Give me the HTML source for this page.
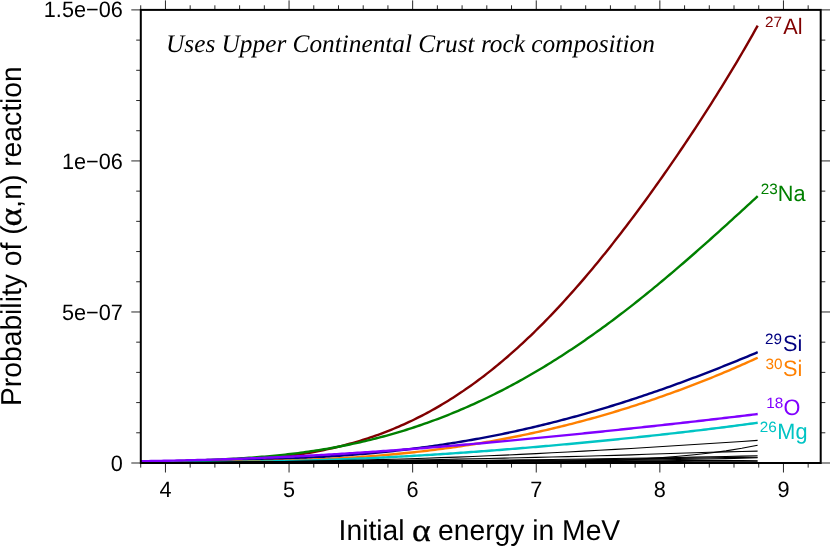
<!DOCTYPE html>
<html><head><meta charset="utf-8"><title>alpha-n probability</title>
<style>html,body{margin:0;padding:0;background:#fff;}svg{display:block;will-change:transform;}text{font-family:"Liberation Sans",sans-serif;text-rendering:geometricPrecision;}.ser{font-family:"Liberation Serif",serif;font-style:italic;}</style></head><body>
<svg width="830" height="546" viewBox="0 0 830 546">
<rect x="0" y="0" width="830" height="546" fill="#ffffff"/>
<path d="M140.60,462.43 L143.18,462.59 L145.76,462.73 L148.35,462.80 L150.93,462.80 L153.51,462.80 L156.09,462.80 L158.67,462.80 L161.26,462.80 L163.84,462.80 L166.42,462.80 L169.00,462.80 L171.58,462.80 L174.17,462.80 L176.75,462.80 L179.33,462.80 L181.91,462.80 L184.49,462.80 L187.08,462.80 L189.66,462.80 L192.24,462.80 L194.82,462.80 L197.40,462.80 L199.99,462.80 L202.57,462.80 L205.15,462.71 L207.73,462.61 L210.31,462.51 L212.90,462.40 L215.48,462.28 L218.06,462.16 L220.64,462.03 L223.22,461.90 L225.81,461.76 L228.39,461.61 L230.97,461.46 L233.55,461.30 L236.13,461.13 L238.72,460.96 L241.30,460.78 L243.88,460.60 L246.46,460.40 L249.04,460.20 L251.63,459.99 L254.21,459.77 L256.79,459.55 L259.37,459.31 L261.95,459.07 L264.54,458.82 L267.12,458.56 L269.70,458.29 L272.28,458.01 L274.86,457.72 L277.45,457.43 L280.03,457.12 L282.61,456.80 L285.19,456.47 L287.77,456.13 L290.36,455.77 L292.94,455.41 L295.52,455.03 L298.10,454.64 L300.68,454.24 L303.27,453.82 L305.85,453.39 L308.43,452.95 L311.01,452.50 L313.59,452.02 L316.18,451.54 L318.76,451.04 L321.34,450.53 L323.92,449.99 L326.50,449.45 L329.09,448.89 L331.67,448.31 L334.25,447.71 L336.83,447.10 L339.41,446.47 L342.00,445.82 L344.58,445.16 L347.16,444.48 L349.74,443.78 L352.32,443.06 L354.91,442.32 L357.49,441.56 L360.07,440.78 L362.65,439.98 L365.23,439.16 L367.82,438.33 L370.40,437.47 L372.98,436.59 L375.56,435.69 L378.14,434.76 L380.73,433.82 L383.31,432.85 L385.89,431.86 L388.47,430.85 L391.05,429.82 L393.64,428.76 L396.22,427.68 L398.80,426.58 L401.38,425.45 L403.96,424.30 L406.55,423.13 L409.13,421.93 L411.71,420.71 L414.29,419.46 L416.87,418.19 L419.46,416.89 L422.04,415.57 L424.62,414.22 L427.20,412.85 L429.78,411.45 L432.37,410.03 L434.95,408.58 L437.53,407.10 L440.11,405.60 L442.69,404.07 L445.28,402.51 L447.86,400.93 L450.44,399.32 L453.02,397.68 L455.61,396.02 L458.19,394.33 L460.77,392.61 L463.35,390.87 L465.93,389.10 L468.52,387.30 L471.10,385.47 L473.68,383.61 L476.26,381.73 L478.84,379.82 L481.43,377.88 L484.01,375.92 L486.59,373.92 L489.17,371.90 L491.75,369.85 L494.34,367.78 L496.92,365.67 L499.50,363.54 L502.08,361.38 L504.66,359.19 L507.25,356.97 L509.83,354.72 L512.41,352.45 L514.99,350.15 L517.57,347.82 L520.16,345.47 L522.74,343.08 L525.32,340.67 L527.90,338.23 L530.48,335.77 L533.07,333.27 L535.65,330.75 L538.23,328.21 L540.81,325.63 L543.39,323.03 L545.98,320.40 L548.56,317.75 L551.14,315.06 L553.72,312.36 L556.30,309.62 L558.89,306.86 L561.47,304.07 L564.05,301.26 L566.63,298.42 L569.21,295.56 L571.80,292.67 L574.38,289.75 L576.96,286.81 L579.54,283.85 L582.12,280.86 L584.71,277.85 L587.29,274.81 L589.87,271.75 L592.45,268.66 L595.03,265.55 L597.62,262.42 L600.20,259.26 L602.78,256.08 L605.36,252.88 L607.94,249.65 L610.53,246.40 L613.11,243.13 L615.69,239.84 L618.27,236.53 L620.85,233.19 L623.44,229.83 L626.02,226.45 L628.60,223.05 L631.18,219.63 L633.76,216.19 L636.35,212.72 L638.93,209.24 L641.51,205.74 L644.09,202.21 L646.67,198.67 L649.26,195.10 L651.84,191.52 L654.42,187.91 L657.00,184.29 L659.58,180.65 L662.17,176.98 L664.75,173.30 L667.33,169.60 L669.91,165.88 L672.49,162.13 L675.08,158.37 L677.66,154.59 L680.24,150.79 L682.82,146.97 L685.40,143.12 L687.99,139.26 L690.57,135.38 L693.15,131.48 L695.73,127.55 L698.31,123.61 L700.90,119.64 L703.48,115.65 L706.06,111.64 L708.64,107.60 L711.22,103.54 L713.81,99.46 L716.39,95.35 L718.97,91.22 L721.55,87.06 L724.13,82.88 L726.72,78.67 L729.30,74.42 L731.88,70.15 L734.46,65.85 L737.04,61.52 L739.63,57.16 L742.21,52.76 L744.79,48.33 L747.37,43.86 L749.95,39.35 L752.54,34.80 L755.12,30.21 L757.70,25.58" fill="none" stroke="#800000" stroke-width="2.4" stroke-linejoin="round"/>
<path d="M140.60,462.69 L143.18,462.56 L145.76,462.42 L148.35,462.30 L150.93,462.18 L153.51,462.06 L156.09,461.94 L158.67,461.84 L161.26,461.73 L163.84,461.63 L166.42,461.53 L169.00,461.43 L171.58,461.33 L174.17,461.24 L176.75,461.14 L179.33,461.05 L181.91,460.96 L184.49,460.86 L187.08,460.77 L189.66,460.68 L192.24,460.59 L194.82,460.49 L197.40,460.39 L199.99,460.30 L202.57,460.20 L205.15,460.10 L207.73,459.99 L210.31,459.89 L212.90,459.78 L215.48,459.66 L218.06,459.55 L220.64,459.43 L223.22,459.30 L225.81,459.17 L228.39,459.04 L230.97,458.90 L233.55,458.76 L236.13,458.62 L238.72,458.46 L241.30,458.31 L243.88,458.14 L246.46,457.97 L249.04,457.80 L251.63,457.62 L254.21,457.43 L256.79,457.23 L259.37,457.03 L261.95,456.82 L264.54,456.61 L267.12,456.38 L269.70,456.15 L272.28,455.91 L274.86,455.67 L277.45,455.41 L280.03,455.15 L282.61,454.88 L285.19,454.60 L287.77,454.31 L290.36,454.02 L292.94,453.71 L295.52,453.40 L298.10,453.07 L300.68,452.74 L303.27,452.40 L305.85,452.05 L308.43,451.68 L311.01,451.31 L313.59,450.93 L316.18,450.54 L318.76,450.14 L321.34,449.73 L323.92,449.30 L326.50,448.87 L329.09,448.43 L331.67,447.97 L334.25,447.51 L336.83,447.03 L339.41,446.55 L342.00,446.05 L344.58,445.54 L347.16,445.02 L349.74,444.49 L352.32,443.94 L354.91,443.39 L357.49,442.82 L360.07,442.24 L362.65,441.65 L365.23,441.05 L367.82,440.44 L370.40,439.81 L372.98,439.17 L375.56,438.52 L378.14,437.86 L380.73,437.18 L383.31,436.50 L385.89,435.79 L388.47,435.08 L391.05,434.36 L393.64,433.62 L396.22,432.86 L398.80,432.10 L401.38,431.32 L403.96,430.53 L406.55,429.73 L409.13,428.91 L411.71,428.08 L414.29,427.24 L416.87,426.38 L419.46,425.51 L422.04,424.63 L424.62,423.73 L427.20,422.82 L429.78,421.89 L432.37,420.96 L434.95,420.00 L437.53,419.04 L440.11,418.06 L442.69,417.07 L445.28,416.06 L447.86,415.04 L450.44,414.00 L453.02,412.95 L455.61,411.89 L458.19,410.81 L460.77,409.72 L463.35,408.62 L465.93,407.50 L468.52,406.36 L471.10,405.21 L473.68,404.05 L476.26,402.87 L478.84,401.68 L481.43,400.48 L484.01,399.26 L486.59,398.02 L489.17,396.77 L491.75,395.51 L494.34,394.23 L496.92,392.94 L499.50,391.63 L502.08,390.31 L504.66,388.98 L507.25,387.62 L509.83,386.26 L512.41,384.88 L514.99,383.49 L517.57,382.08 L520.16,380.65 L522.74,379.22 L525.32,377.76 L527.90,376.30 L530.48,374.82 L533.07,373.32 L535.65,371.81 L538.23,370.29 L540.81,368.75 L543.39,367.19 L545.98,365.63 L548.56,364.04 L551.14,362.45 L553.72,360.84 L556.30,359.21 L558.89,357.57 L561.47,355.92 L564.05,354.25 L566.63,352.57 L569.21,350.87 L571.80,349.16 L574.38,347.44 L576.96,345.70 L579.54,343.94 L582.12,342.18 L584.71,340.40 L587.29,338.61 L589.87,336.80 L592.45,334.98 L595.03,333.14 L597.62,331.30 L600.20,329.43 L602.78,327.56 L605.36,325.67 L607.94,323.77 L610.53,321.86 L613.11,319.93 L615.69,317.99 L618.27,316.04 L620.85,314.08 L623.44,312.10 L626.02,310.11 L628.60,308.11 L631.18,306.09 L633.76,304.07 L636.35,302.03 L638.93,299.98 L641.51,297.92 L644.09,295.85 L646.67,293.76 L649.26,291.67 L651.84,289.56 L654.42,287.44 L657.00,285.31 L659.58,283.18 L662.17,281.03 L664.75,278.87 L667.33,276.70 L669.91,274.52 L672.49,272.33 L675.08,270.13 L677.66,267.93 L680.24,265.71 L682.82,263.48 L685.40,261.25 L687.99,259.01 L690.57,256.76 L693.15,254.50 L695.73,252.23 L698.31,249.96 L700.90,247.68 L703.48,245.39 L706.06,243.09 L708.64,240.79 L711.22,238.49 L713.81,236.17 L716.39,233.85 L718.97,231.53 L721.55,229.20 L724.13,226.86 L726.72,224.52 L729.30,222.18 L731.88,219.83 L734.46,217.48 L737.04,215.13 L739.63,212.77 L742.21,210.41 L744.79,208.05 L747.37,205.69 L749.95,203.32 L752.54,200.95 L755.12,198.59 L757.70,196.22" fill="none" stroke="#008000" stroke-width="2.4" stroke-linejoin="round"/>
<path d="M140.60,462.45 L143.18,462.38 L145.76,462.31 L148.35,462.24 L150.93,462.18 L153.51,462.11 L156.09,462.05 L158.67,461.98 L161.26,461.92 L163.84,461.86 L166.42,461.81 L169.00,461.75 L171.58,461.69 L174.17,461.63 L176.75,461.58 L179.33,461.53 L181.91,461.47 L184.49,461.42 L187.08,461.36 L189.66,461.31 L192.24,461.26 L194.82,461.21 L197.40,461.15 L199.99,461.10 L202.57,461.05 L205.15,460.99 L207.73,460.94 L210.31,460.89 L212.90,460.83 L215.48,460.78 L218.06,460.72 L220.64,460.66 L223.22,460.60 L225.81,460.55 L228.39,460.49 L230.97,460.43 L233.55,460.36 L236.13,460.30 L238.72,460.23 L241.30,460.17 L243.88,460.10 L246.46,460.03 L249.04,459.96 L251.63,459.88 L254.21,459.81 L256.79,459.73 L259.37,459.65 L261.95,459.57 L264.54,459.49 L267.12,459.40 L269.70,459.31 L272.28,459.22 L274.86,459.13 L277.45,459.03 L280.03,458.93 L282.61,458.83 L285.19,458.73 L287.77,458.62 L290.36,458.51 L292.94,458.40 L295.52,458.28 L298.10,458.16 L300.68,458.04 L303.27,457.91 L305.85,457.78 L308.43,457.65 L311.01,457.51 L313.59,457.37 L316.18,457.23 L318.76,457.08 L321.34,456.93 L323.92,456.78 L326.50,456.62 L329.09,456.46 L331.67,456.29 L334.25,456.12 L336.83,455.94 L339.41,455.76 L342.00,455.58 L344.58,455.39 L347.16,455.20 L349.74,455.00 L352.32,454.80 L354.91,454.60 L357.49,454.39 L360.07,454.17 L362.65,453.95 L365.23,453.73 L367.82,453.50 L370.40,453.27 L372.98,453.03 L375.56,452.79 L378.14,452.54 L380.73,452.28 L383.31,452.03 L385.89,451.76 L388.47,451.49 L391.05,451.22 L393.64,450.94 L396.22,450.66 L398.80,450.37 L401.38,450.07 L403.96,449.77 L406.55,449.46 L409.13,449.15 L411.71,448.84 L414.29,448.51 L416.87,448.19 L419.46,447.85 L422.04,447.51 L424.62,447.17 L427.20,446.82 L429.78,446.46 L432.37,446.10 L434.95,445.73 L437.53,445.36 L440.11,444.98 L442.69,444.59 L445.28,444.20 L447.86,443.80 L450.44,443.40 L453.02,442.99 L455.61,442.58 L458.19,442.16 L460.77,441.73 L463.35,441.29 L465.93,440.86 L468.52,440.41 L471.10,439.96 L473.68,439.50 L476.26,439.04 L478.84,438.57 L481.43,438.09 L484.01,437.61 L486.59,437.12 L489.17,436.62 L491.75,436.12 L494.34,435.62 L496.92,435.10 L499.50,434.58 L502.08,434.06 L504.66,433.52 L507.25,432.98 L509.83,432.44 L512.41,431.89 L514.99,431.33 L517.57,430.77 L520.16,430.20 L522.74,429.62 L525.32,429.04 L527.90,428.45 L530.48,427.85 L533.07,427.25 L535.65,426.64 L538.23,426.03 L540.81,425.40 L543.39,424.78 L545.98,424.14 L548.56,423.50 L551.14,422.86 L553.72,422.20 L556.30,421.55 L558.89,420.88 L561.47,420.21 L564.05,419.53 L566.63,418.85 L569.21,418.16 L571.80,417.46 L574.38,416.76 L576.96,416.05 L579.54,415.33 L582.12,414.61 L584.71,413.88 L587.29,413.15 L589.87,412.41 L592.45,411.66 L595.03,410.91 L597.62,410.15 L600.20,409.39 L602.78,408.62 L605.36,407.84 L607.94,407.06 L610.53,406.27 L613.11,405.48 L615.69,404.68 L618.27,403.87 L620.85,403.06 L623.44,402.24 L626.02,401.41 L628.60,400.58 L631.18,399.75 L633.76,398.90 L636.35,398.06 L638.93,397.20 L641.51,396.34 L644.09,395.48 L646.67,394.61 L649.26,393.73 L651.84,392.85 L654.42,391.96 L657.00,391.07 L659.58,390.17 L662.17,389.27 L664.75,388.36 L667.33,387.44 L669.91,386.52 L672.49,385.59 L675.08,384.66 L677.66,383.72 L680.24,382.78 L682.82,381.84 L685.40,380.88 L687.99,379.92 L690.57,378.96 L693.15,377.99 L695.73,377.02 L698.31,376.04 L700.90,375.06 L703.48,374.07 L706.06,373.08 L708.64,372.08 L711.22,371.07 L713.81,370.07 L716.39,369.05 L718.97,368.04 L721.55,367.01 L724.13,365.99 L726.72,364.95 L729.30,363.92 L731.88,362.88 L734.46,361.83 L737.04,360.78 L739.63,359.73 L742.21,358.67 L744.79,357.60 L747.37,356.53 L749.95,355.46 L752.54,354.39 L755.12,353.31 L757.70,352.22" fill="none" stroke="#000080" stroke-width="2.4" stroke-linejoin="round"/>
<path d="M140.60,462.65 L143.18,462.61 L145.76,462.56 L148.35,462.52 L150.93,462.48 L153.51,462.45 L156.09,462.41 L158.67,462.38 L161.26,462.34 L163.84,462.31 L166.42,462.28 L169.00,462.25 L171.58,462.22 L174.17,462.19 L176.75,462.16 L179.33,462.13 L181.91,462.11 L184.49,462.08 L187.08,462.06 L189.66,462.03 L192.24,462.00 L194.82,461.98 L197.40,461.95 L199.99,461.93 L202.57,461.90 L205.15,461.88 L207.73,461.85 L210.31,461.82 L212.90,461.80 L215.48,461.77 L218.06,461.74 L220.64,461.71 L223.22,461.68 L225.81,461.65 L228.39,461.62 L230.97,461.59 L233.55,461.55 L236.13,461.52 L238.72,461.48 L241.30,461.45 L243.88,461.41 L246.46,461.37 L249.04,461.32 L251.63,461.28 L254.21,461.23 L256.79,461.19 L259.37,461.14 L261.95,461.09 L264.54,461.03 L267.12,460.98 L269.70,460.92 L272.28,460.86 L274.86,460.80 L277.45,460.73 L280.03,460.67 L282.61,460.60 L285.19,460.52 L287.77,460.45 L290.36,460.37 L292.94,460.29 L295.52,460.21 L298.10,460.12 L300.68,460.03 L303.27,459.94 L305.85,459.84 L308.43,459.74 L311.01,459.64 L313.59,459.53 L316.18,459.42 L318.76,459.31 L321.34,459.20 L323.92,459.08 L326.50,458.95 L329.09,458.83 L331.67,458.69 L334.25,458.56 L336.83,458.42 L339.41,458.28 L342.00,458.13 L344.58,457.98 L347.16,457.83 L349.74,457.67 L352.32,457.50 L354.91,457.34 L357.49,457.17 L360.07,456.99 L362.65,456.81 L365.23,456.62 L367.82,456.43 L370.40,456.24 L372.98,456.04 L375.56,455.84 L378.14,455.63 L380.73,455.42 L383.31,455.20 L385.89,454.97 L388.47,454.75 L391.05,454.51 L393.64,454.28 L396.22,454.03 L398.80,453.79 L401.38,453.53 L403.96,453.27 L406.55,453.01 L409.13,452.74 L411.71,452.47 L414.29,452.19 L416.87,451.90 L419.46,451.61 L422.04,451.32 L424.62,451.02 L427.20,450.71 L429.78,450.40 L432.37,450.08 L434.95,449.76 L437.53,449.43 L440.11,449.09 L442.69,448.75 L445.28,448.40 L447.86,448.05 L450.44,447.69 L453.02,447.33 L455.61,446.96 L458.19,446.58 L460.77,446.20 L463.35,445.81 L465.93,445.42 L468.52,445.02 L471.10,444.61 L473.68,444.20 L476.26,443.78 L478.84,443.36 L481.43,442.93 L484.01,442.49 L486.59,442.05 L489.17,441.60 L491.75,441.14 L494.34,440.68 L496.92,440.21 L499.50,439.74 L502.08,439.26 L504.66,438.77 L507.25,438.27 L509.83,437.77 L512.41,437.27 L514.99,436.75 L517.57,436.23 L520.16,435.71 L522.74,435.17 L525.32,434.64 L527.90,434.09 L530.48,433.54 L533.07,432.98 L535.65,432.41 L538.23,431.84 L540.81,431.26 L543.39,430.67 L545.98,430.08 L548.56,429.48 L551.14,428.88 L553.72,428.26 L556.30,427.65 L558.89,427.02 L561.47,426.39 L564.05,425.75 L566.63,425.10 L569.21,424.45 L571.80,423.79 L574.38,423.12 L576.96,422.45 L579.54,421.77 L582.12,421.08 L584.71,420.39 L587.29,419.68 L589.87,418.98 L592.45,418.26 L595.03,417.54 L597.62,416.81 L600.20,416.08 L602.78,415.33 L605.36,414.58 L607.94,413.83 L610.53,413.06 L613.11,412.29 L615.69,411.52 L618.27,410.73 L620.85,409.94 L623.44,409.14 L626.02,408.34 L628.60,407.53 L631.18,406.71 L633.76,405.88 L636.35,405.05 L638.93,404.21 L641.51,403.36 L644.09,402.50 L646.67,401.64 L649.26,400.77 L651.84,399.90 L654.42,399.02 L657.00,398.13 L659.58,397.23 L662.17,396.32 L664.75,395.41 L667.33,394.49 L669.91,393.57 L672.49,392.64 L675.08,391.70 L677.66,390.75 L680.24,389.80 L682.82,388.83 L685.40,387.87 L687.99,386.89 L690.57,385.91 L693.15,384.92 L695.73,383.92 L698.31,382.92 L700.90,381.90 L703.48,380.88 L706.06,379.86 L708.64,378.82 L711.22,377.78 L713.81,376.74 L716.39,375.68 L718.97,374.62 L721.55,373.55 L724.13,372.47 L726.72,371.38 L729.30,370.29 L731.88,369.19 L734.46,368.08 L737.04,366.97 L739.63,365.85 L742.21,364.72 L744.79,363.58 L747.37,362.44 L749.95,361.28 L752.54,360.12 L755.12,358.96 L757.70,357.78" fill="none" stroke="#ff8000" stroke-width="2.4" stroke-linejoin="round"/>
<path d="M140.60,462.52 L143.18,462.51 L145.76,462.50 L148.35,462.49 L150.93,462.48 L153.51,462.47 L156.09,462.46 L158.67,462.45 L161.26,462.44 L163.84,462.43 L166.42,462.42 L169.00,462.41 L171.58,462.40 L174.17,462.39 L176.75,462.38 L179.33,462.37 L181.91,462.35 L184.49,462.34 L187.08,462.33 L189.66,462.32 L192.24,462.30 L194.82,462.29 L197.40,462.27 L199.99,462.25 L202.57,462.24 L205.15,462.22 L207.73,462.20 L210.31,462.18 L212.90,462.16 L215.48,462.14 L218.06,462.12 L220.64,462.09 L223.22,462.07 L225.81,462.04 L228.39,462.01 L230.97,461.98 L233.55,461.95 L236.13,461.92 L238.72,461.89 L241.30,461.86 L243.88,461.82 L246.46,461.79 L249.04,461.75 L251.63,461.71 L254.21,461.67 L256.79,461.63 L259.37,461.58 L261.95,461.54 L264.54,461.49 L267.12,461.44 L269.70,461.39 L272.28,461.34 L274.86,461.29 L277.45,461.23 L280.03,461.18 L282.61,461.12 L285.19,461.06 L287.77,461.00 L290.36,460.93 L292.94,460.87 L295.52,460.80 L298.10,460.74 L300.68,460.67 L303.27,460.59 L305.85,460.52 L308.43,460.44 L311.01,460.37 L313.59,460.29 L316.18,460.21 L318.76,460.13 L321.34,460.04 L323.92,459.96 L326.50,459.87 L329.09,459.78 L331.67,459.69 L334.25,459.59 L336.83,459.50 L339.41,459.40 L342.00,459.30 L344.58,459.20 L347.16,459.10 L349.74,458.99 L352.32,458.89 L354.91,458.78 L357.49,458.67 L360.07,458.56 L362.65,458.44 L365.23,458.33 L367.82,458.21 L370.40,458.09 L372.98,457.97 L375.56,457.85 L378.14,457.72 L380.73,457.60 L383.31,457.47 L385.89,457.34 L388.47,457.21 L391.05,457.07 L393.64,456.94 L396.22,456.80 L398.80,456.66 L401.38,456.52 L403.96,456.38 L406.55,456.23 L409.13,456.09 L411.71,455.94 L414.29,455.79 L416.87,455.64 L419.46,455.49 L422.04,455.33 L424.62,455.17 L427.20,455.02 L429.78,454.86 L432.37,454.69 L434.95,454.53 L437.53,454.37 L440.11,454.20 L442.69,454.03 L445.28,453.86 L447.86,453.69 L450.44,453.52 L453.02,453.34 L455.61,453.16 L458.19,452.99 L460.77,452.81 L463.35,452.63 L465.93,452.44 L468.52,452.26 L471.10,452.07 L473.68,451.89 L476.26,451.70 L478.84,451.51 L481.43,451.31 L484.01,451.12 L486.59,450.93 L489.17,450.73 L491.75,450.53 L494.34,450.33 L496.92,450.13 L499.50,449.93 L502.08,449.73 L504.66,449.52 L507.25,449.31 L509.83,449.11 L512.41,448.90 L514.99,448.69 L517.57,448.47 L520.16,448.26 L522.74,448.05 L525.32,447.83 L527.90,447.61 L530.48,447.39 L533.07,447.17 L535.65,446.95 L538.23,446.73 L540.81,446.51 L543.39,446.28 L545.98,446.05 L548.56,445.83 L551.14,445.60 L553.72,445.37 L556.30,445.13 L558.89,444.90 L561.47,444.67 L564.05,444.43 L566.63,444.20 L569.21,443.96 L571.80,443.72 L574.38,443.48 L576.96,443.24 L579.54,442.99 L582.12,442.75 L584.71,442.50 L587.29,442.25 L589.87,442.01 L592.45,441.76 L595.03,441.51 L597.62,441.25 L600.20,441.00 L602.78,440.75 L605.36,440.49 L607.94,440.23 L610.53,439.98 L613.11,439.72 L615.69,439.46 L618.27,439.19 L620.85,438.93 L623.44,438.67 L626.02,438.40 L628.60,438.13 L631.18,437.86 L633.76,437.59 L636.35,437.32 L638.93,437.05 L641.51,436.78 L644.09,436.50 L646.67,436.22 L649.26,435.95 L651.84,435.67 L654.42,435.39 L657.00,435.10 L659.58,434.82 L662.17,434.53 L664.75,434.25 L667.33,433.96 L669.91,433.67 L672.49,433.38 L675.08,433.09 L677.66,432.79 L680.24,432.50 L682.82,432.20 L685.40,431.90 L687.99,431.60 L690.57,431.29 L693.15,430.99 L695.73,430.68 L698.31,430.38 L700.90,430.07 L703.48,429.75 L706.06,429.44 L708.64,429.13 L711.22,428.81 L713.81,428.49 L716.39,428.17 L718.97,427.84 L721.55,427.52 L724.13,427.19 L726.72,426.86 L729.30,426.53 L731.88,426.20 L734.46,425.86 L737.04,425.52 L739.63,425.18 L742.21,424.84 L744.79,424.49 L747.37,424.14 L749.95,423.79 L752.54,423.44 L755.12,423.08 L757.70,422.73" fill="none" stroke="#00c4c4" stroke-width="2.4" stroke-linejoin="round"/>
<path d="M140.60,461.22 L143.18,461.18 L145.76,461.14 L148.35,461.09 L150.93,461.05 L153.51,461.01 L156.09,460.96 L158.67,460.91 L161.26,460.86 L163.84,460.82 L166.42,460.76 L169.00,460.71 L171.58,460.66 L174.17,460.61 L176.75,460.55 L179.33,460.49 L181.91,460.43 L184.49,460.37 L187.08,460.31 L189.66,460.25 L192.24,460.19 L194.82,460.12 L197.40,460.06 L199.99,459.99 L202.57,459.92 L205.15,459.85 L207.73,459.77 L210.31,459.70 L212.90,459.62 L215.48,459.55 L218.06,459.47 L220.64,459.39 L223.22,459.31 L225.81,459.22 L228.39,459.14 L230.97,459.05 L233.55,458.96 L236.13,458.87 L238.72,458.78 L241.30,458.69 L243.88,458.60 L246.46,458.50 L249.04,458.40 L251.63,458.30 L254.21,458.20 L256.79,458.10 L259.37,457.99 L261.95,457.89 L264.54,457.78 L267.12,457.67 L269.70,457.56 L272.28,457.45 L274.86,457.33 L277.45,457.22 L280.03,457.10 L282.61,456.98 L285.19,456.86 L287.77,456.74 L290.36,456.61 L292.94,456.49 L295.52,456.36 L298.10,456.23 L300.68,456.10 L303.27,455.97 L305.85,455.83 L308.43,455.70 L311.01,455.56 L313.59,455.42 L316.18,455.28 L318.76,455.14 L321.34,455.00 L323.92,454.85 L326.50,454.70 L329.09,454.55 L331.67,454.40 L334.25,454.25 L336.83,454.10 L339.41,453.94 L342.00,453.79 L344.58,453.63 L347.16,453.47 L349.74,453.31 L352.32,453.14 L354.91,452.98 L357.49,452.81 L360.07,452.65 L362.65,452.48 L365.23,452.31 L367.82,452.13 L370.40,451.96 L372.98,451.78 L375.56,451.61 L378.14,451.43 L380.73,451.25 L383.31,451.07 L385.89,450.89 L388.47,450.70 L391.05,450.52 L393.64,450.33 L396.22,450.14 L398.80,449.95 L401.38,449.76 L403.96,449.57 L406.55,449.38 L409.13,449.18 L411.71,448.98 L414.29,448.79 L416.87,448.59 L419.46,448.39 L422.04,448.19 L424.62,447.98 L427.20,447.78 L429.78,447.57 L432.37,447.37 L434.95,447.16 L437.53,446.95 L440.11,446.74 L442.69,446.53 L445.28,446.31 L447.86,446.10 L450.44,445.88 L453.02,445.67 L455.61,445.45 L458.19,445.23 L460.77,445.01 L463.35,444.79 L465.93,444.57 L468.52,444.34 L471.10,444.12 L473.68,443.89 L476.26,443.67 L478.84,443.44 L481.43,443.21 L484.01,442.98 L486.59,442.75 L489.17,442.52 L491.75,442.28 L494.34,442.05 L496.92,441.82 L499.50,441.58 L502.08,441.34 L504.66,441.10 L507.25,440.87 L509.83,440.63 L512.41,440.39 L514.99,440.14 L517.57,439.90 L520.16,439.66 L522.74,439.41 L525.32,439.17 L527.90,438.92 L530.48,438.68 L533.07,438.43 L535.65,438.18 L538.23,437.93 L540.81,437.68 L543.39,437.43 L545.98,437.18 L548.56,436.93 L551.14,436.67 L553.72,436.42 L556.30,436.16 L558.89,435.91 L561.47,435.65 L564.05,435.39 L566.63,435.13 L569.21,434.88 L571.80,434.62 L574.38,434.36 L576.96,434.10 L579.54,433.83 L582.12,433.57 L584.71,433.31 L587.29,433.04 L589.87,432.78 L592.45,432.51 L595.03,432.25 L597.62,431.98 L600.20,431.71 L602.78,431.45 L605.36,431.18 L607.94,430.91 L610.53,430.64 L613.11,430.37 L615.69,430.09 L618.27,429.82 L620.85,429.55 L623.44,429.28 L626.02,429.00 L628.60,428.73 L631.18,428.45 L633.76,428.18 L636.35,427.90 L638.93,427.62 L641.51,427.34 L644.09,427.06 L646.67,426.78 L649.26,426.50 L651.84,426.22 L654.42,425.94 L657.00,425.66 L659.58,425.38 L662.17,425.09 L664.75,424.81 L667.33,424.52 L669.91,424.24 L672.49,423.95 L675.08,423.66 L677.66,423.37 L680.24,423.08 L682.82,422.79 L685.40,422.50 L687.99,422.21 L690.57,421.92 L693.15,421.63 L695.73,421.33 L698.31,421.04 L700.90,420.74 L703.48,420.45 L706.06,420.15 L708.64,419.85 L711.22,419.55 L713.81,419.25 L716.39,418.95 L718.97,418.65 L721.55,418.35 L724.13,418.04 L726.72,417.74 L729.30,417.43 L731.88,417.13 L734.46,416.82 L737.04,416.51 L739.63,416.20 L742.21,415.89 L744.79,415.58 L747.37,415.26 L749.95,414.95 L752.54,414.63 L755.12,414.32 L757.70,414.00" fill="none" stroke="#8000ff" stroke-width="2.4" stroke-linejoin="round"/>
<path d="M140.6,462.70 L156.4,462.65 L172.2,462.57 L188.1,462.47 L203.9,462.35 L219.7,462.21 L235.5,462.05 L251.3,461.89 L267.2,461.72 L283.0,461.51 L298.8,461.27 L314.6,461.00 L330.4,460.70 L346.3,460.37 L362.1,460.02 L377.9,459.65 L393.7,459.24 L409.5,458.75 L425.4,458.21 L441.2,457.66 L457.0,457.08 L472.8,456.45 L488.7,455.79 L504.5,455.10 L520.3,454.36 L536.1,453.59 L551.9,452.78 L567.8,451.95 L583.6,451.10 L599.4,450.23 L615.2,449.35 L631.0,448.43 L646.9,447.49 L662.7,446.53 L678.5,445.55 L694.3,444.56 L710.1,443.55 L726.0,442.52 L741.8,441.47 L757.6,440.40" fill="none" stroke="#000" stroke-width="1.1" stroke-linejoin="round"/>
<path d="M140.6,462.80 L156.4,462.80 L172.2,462.80 L188.1,462.79 L203.9,462.79 L219.7,462.78 L235.5,462.77 L251.3,462.76 L267.2,462.74 L283.0,462.73 L298.8,462.71 L314.6,462.69 L330.4,462.67 L346.3,462.65 L362.1,462.62 L377.9,462.59 L393.7,462.56 L409.5,462.53 L425.4,462.49 L441.2,462.46 L457.0,462.42 L472.8,462.38 L488.7,462.33 L504.5,462.28 L520.3,462.20 L536.1,462.05 L551.9,461.86 L567.8,461.63 L583.6,461.34 L599.4,461.01 L615.2,460.48 L631.0,459.64 L646.9,458.67 L662.7,457.58 L678.5,456.27 L694.3,454.77 L710.1,452.98 L726.0,450.86 L741.8,448.30 L757.6,445.30" fill="none" stroke="#000" stroke-width="1.1" stroke-linejoin="round"/>
<path d="M140.6,462.80 L156.4,462.77 L172.2,462.73 L188.1,462.66 L203.9,462.58 L219.7,462.48 L235.5,462.37 L251.3,462.26 L267.2,462.14 L283.0,461.99 L298.8,461.81 L314.6,461.61 L330.4,461.38 L346.3,461.14 L362.1,460.89 L377.9,460.63 L393.7,460.37 L409.5,460.09 L425.4,459.78 L441.2,459.46 L457.0,459.13 L472.8,458.79 L488.7,458.45 L504.5,458.10 L520.3,457.75 L536.1,457.39 L551.9,457.02 L567.8,456.64 L583.6,456.24 L599.4,455.82 L615.2,455.36 L631.0,454.85 L646.9,454.32 L662.7,453.78 L678.5,453.26 L694.3,452.77 L710.1,452.32 L726.0,451.89 L741.8,451.49 L757.6,451.10" fill="none" stroke="#000" stroke-width="1.1" stroke-linejoin="round"/>
<path d="M140.6,462.80 L156.4,462.76 L172.2,462.71 L188.1,462.65 L203.9,462.58 L219.7,462.50 L235.5,462.41 L251.3,462.32 L267.2,462.22 L283.0,462.12 L298.8,462.01 L314.6,461.89 L330.4,461.74 L346.3,461.57 L362.1,461.40 L377.9,461.23 L393.7,461.06 L409.5,460.91 L425.4,460.77 L441.2,460.64 L457.0,460.50 L472.8,460.37 L488.7,460.22 L504.5,460.05 L520.3,459.87 L536.1,459.68 L551.9,459.48 L567.8,459.27 L583.6,459.04 L599.4,458.81 L615.2,458.56 L631.0,458.30 L646.9,458.02 L662.7,457.73 L678.5,457.43 L694.3,457.11 L710.1,456.79 L726.0,456.44 L741.8,456.08 L757.6,455.70" fill="none" stroke="#000" stroke-width="1.1" stroke-linejoin="round"/>
<path d="M140.6,462.80 L156.4,462.76 L172.2,462.72 L188.1,462.67 L203.9,462.61 L219.7,462.55 L235.5,462.49 L251.3,462.42 L267.2,462.34 L283.0,462.26 L298.8,462.18 L314.6,462.10 L330.4,462.01 L346.3,461.92 L362.1,461.83 L377.9,461.73 L393.7,461.64 L409.5,461.54 L425.4,461.43 L441.2,461.31 L457.0,461.19 L472.8,461.05 L488.7,460.91 L504.5,460.76 L520.3,460.59 L536.1,460.42 L551.9,460.23 L567.8,460.03 L583.6,459.82 L599.4,459.61 L615.2,459.38 L631.0,459.13 L646.9,458.87 L662.7,458.60 L678.5,458.34 L694.3,458.09 L710.1,457.85 L726.0,457.63 L741.8,457.41 L757.6,457.20" fill="none" stroke="#000" stroke-width="1.1" stroke-linejoin="round"/>
<path d="M140.6,462.80 L156.4,462.80 L172.2,462.78 L188.1,462.77 L203.9,462.74 L219.7,462.71 L235.5,462.67 L251.3,462.63 L267.2,462.58 L283.0,462.52 L298.8,462.46 L314.6,462.40 L330.4,462.33 L346.3,462.26 L362.1,462.18 L377.9,462.10 L393.7,462.02 L409.5,461.93 L425.4,461.84 L441.2,461.75 L457.0,461.66 L472.8,461.56 L488.7,461.47 L504.5,461.37 L520.3,461.25 L536.1,461.10 L551.9,460.94 L567.8,460.76 L583.6,460.58 L599.4,460.41 L615.2,460.24 L631.0,460.07 L646.9,459.90 L662.7,459.72 L678.5,459.52 L694.3,459.29 L710.1,459.01 L726.0,458.65 L741.8,458.25 L757.6,457.80" fill="none" stroke="#000" stroke-width="1.1" stroke-linejoin="round"/>
<path d="M140.6,462.80 L156.4,462.66 L172.2,462.52 L188.1,462.37 L203.9,462.23 L219.7,462.08 L235.5,461.93 L251.3,461.78 L267.2,461.63 L283.0,461.44 L298.8,461.23 L314.6,461.02 L330.4,460.83 L346.3,460.67 L362.1,460.55 L377.9,460.50 L393.7,460.50 L409.5,460.51 L425.4,460.52 L441.2,460.53 L457.0,460.55 L472.8,460.57 L488.7,460.59 L504.5,460.61 L520.3,460.65 L536.1,460.71 L551.9,460.77 L567.8,460.84 L583.6,460.88 L599.4,460.90 L615.2,460.88 L631.0,460.83 L646.9,460.76 L662.7,460.69 L678.5,460.64 L694.3,460.60 L710.1,460.60 L726.0,460.62 L741.8,460.65 L757.6,460.70" fill="none" stroke="#000" stroke-width="1.1" stroke-linejoin="round"/>
<path d="M140.6,462.80 L156.4,462.76 L172.2,462.73 L188.1,462.69 L203.9,462.65 L219.7,462.61 L235.5,462.57 L251.3,462.54 L267.2,462.50 L283.0,462.46 L298.8,462.42 L314.6,462.38 L330.4,462.34 L346.3,462.29 L362.1,462.25 L377.9,462.21 L393.7,462.17 L409.5,462.13 L425.4,462.08 L441.2,462.04 L457.0,462.00 L472.8,461.96 L488.7,461.91 L504.5,461.87 L520.3,461.82 L536.1,461.78 L551.9,461.74 L567.8,461.69 L583.6,461.65 L599.4,461.60 L615.2,461.55 L631.0,461.50 L646.9,461.45 L662.7,461.40 L678.5,461.35 L694.3,461.31 L710.1,461.28 L726.0,461.25 L741.8,461.22 L757.6,461.20" fill="none" stroke="#000" stroke-width="1.1" stroke-linejoin="round"/>
<path d="M140.73,463.00v4.6 M140.73,9.90v-4.6 M165.45,463.00v9.5 M165.45,9.90v-9.5 M190.17,463.00v4.6 M190.17,9.90v-4.6 M214.89,463.00v4.6 M214.89,9.90v-4.6 M239.61,463.00v4.6 M239.61,9.90v-4.6 M264.33,463.00v4.6 M264.33,9.90v-4.6 M289.05,463.00v9.5 M289.05,9.90v-9.5 M313.77,463.00v4.6 M313.77,9.90v-4.6 M338.49,463.00v4.6 M338.49,9.90v-4.6 M363.21,463.00v4.6 M363.21,9.90v-4.6 M387.93,463.00v4.6 M387.93,9.90v-4.6 M412.65,463.00v9.5 M412.65,9.90v-9.5 M437.37,463.00v4.6 M437.37,9.90v-4.6 M462.09,463.00v4.6 M462.09,9.90v-4.6 M486.81,463.00v4.6 M486.81,9.90v-4.6 M511.53,463.00v4.6 M511.53,9.90v-4.6 M536.25,463.00v9.5 M536.25,9.90v-9.5 M560.97,463.00v4.6 M560.97,9.90v-4.6 M585.69,463.00v4.6 M585.69,9.90v-4.6 M610.41,463.00v4.6 M610.41,9.90v-4.6 M635.13,463.00v4.6 M635.13,9.90v-4.6 M659.85,463.00v9.5 M659.85,9.90v-9.5 M684.57,463.00v4.6 M684.57,9.90v-4.6 M709.29,463.00v4.6 M709.29,9.90v-4.6 M734.01,463.00v4.6 M734.01,9.90v-4.6 M758.73,463.00v4.6 M758.73,9.90v-4.6 M783.45,463.00v9.5 M783.45,9.90v-9.5 M808.17,463.00v4.6 M808.17,9.90v-4.6 M140.80,463.00h-9.5 M820.70,463.00h9.5 M140.80,432.79h-4.6 M820.70,432.79h4.6 M140.80,402.59h-4.6 M820.70,402.59h4.6 M140.80,372.38h-4.6 M820.70,372.38h4.6 M140.80,342.17h-4.6 M820.70,342.17h4.6 M140.80,311.97h-9.5 M820.70,311.97h9.5 M140.80,281.76h-4.6 M820.70,281.76h4.6 M140.80,251.55h-4.6 M820.70,251.55h4.6 M140.80,221.35h-4.6 M820.70,221.35h4.6 M140.80,191.14h-4.6 M820.70,191.14h4.6 M140.80,160.93h-9.5 M820.70,160.93h9.5 M140.80,130.73h-4.6 M820.70,130.73h4.6 M140.80,100.52h-4.6 M820.70,100.52h4.6 M140.80,70.31h-4.6 M820.70,70.31h4.6 M140.80,40.11h-4.6 M820.70,40.11h4.6 M140.80,9.90h-9.5 M820.70,9.90h9.5" fill="none" stroke="#000" stroke-width="0.85"/>
<rect x="140.8" y="9.9" width="679.90" height="453.10" fill="none" stroke="#000" stroke-width="2"/>
<text transform="translate(165.45,497.0) scale(1,1.03)" font-size="21.7" text-anchor="middle">4</text>
<text transform="translate(289.05,497.0) scale(1,1.03)" font-size="21.7" text-anchor="middle">5</text>
<text transform="translate(412.65,497.0) scale(1,1.03)" font-size="21.7" text-anchor="middle">6</text>
<text transform="translate(536.25,497.0) scale(1,1.03)" font-size="21.7" text-anchor="middle">7</text>
<text transform="translate(659.85,497.0) scale(1,1.03)" font-size="21.7" text-anchor="middle">8</text>
<text transform="translate(783.45,497.0) scale(1,1.03)" font-size="21.7" text-anchor="middle">9</text>
<text transform="translate(122.8,471.13) scale(1,1.03)" font-size="21.7" text-anchor="end">0</text>
<text transform="translate(122.8,319.90) scale(1,1.03)" font-size="21.7" text-anchor="end">5e−07</text>
<text transform="translate(122.8,168.61) scale(1,1.03)" font-size="21.7" text-anchor="end">1e−06</text>
<text transform="translate(122.8,17.43) scale(1,1.03)" font-size="21.7" text-anchor="end">1.5e−06</text>
<g transform="translate(338.6,539.6) scale(1,1.02)"><text x="0.00" y="0.00" font-size="28.25" xml:space="preserve">Initial</text><text transform="translate(73.29,1.15) scale(1.13,1)" x="0" y="0" font-size="31.7" stroke="#000" stroke-width="0.3" style="font-family:'Liberation Serif',serif">α</text><text x="91.61" y="0.00" font-size="28.25" xml:space="preserve"> energy in MeV</text></g>
<g transform="translate(20.6,406.0) rotate(-90) scale(1,1.02)"><text x="0.00" y="0.00" font-size="28.25" xml:space="preserve">Probability of (</text><text transform="translate(179.55,0.20) scale(1.13,1)" x="0" y="0" font-size="31.7" stroke="#000" stroke-width="0.3" style="font-family:'Liberation Serif',serif">α</text><text x="198.37" y="0.00" font-size="28.25" xml:space="preserve">,n) reaction</text></g>
<text class="ser" x="166.1" y="51.9" font-size="25.3">Uses Upper Continental Crust rock composition</text>
<text transform="translate(765.03,26.95) scale(1,0.975)" font-size="15.3" fill="#800000">27</text>
<text transform="translate(802.50,34.1) scale(1,1.03)" font-size="21.7" text-anchor="end" fill="#800000">Al</text>
<text transform="translate(760.63,193.55) scale(1,0.975)" font-size="15.3" fill="#008000">23</text>
<text transform="translate(805.60,200.7) scale(1,1.03)" font-size="21.7" text-anchor="end" fill="#008000">Na</text>
<text transform="translate(765.03,343.55) scale(1,0.975)" font-size="15.3" fill="#000080">29</text>
<text transform="translate(802.26,350.7) scale(1,1.03)" font-size="21.7" text-anchor="end" fill="#000080">Si</text>
<text transform="translate(765.42,368.75) scale(1,0.975)" font-size="15.3" fill="#ff8000">30</text>
<text transform="translate(802.26,375.9) scale(1,1.03)" font-size="21.7" text-anchor="end" fill="#ff8000">Si</text>
<text transform="translate(766.23,407.75) scale(1,0.975)" font-size="15.3" fill="#8000ff">18</text>
<text transform="translate(800.44,414.9) scale(1,1.03)" font-size="21.7" text-anchor="end" fill="#8000ff">O</text>
<text transform="translate(759.63,431.95) scale(1,0.975)" font-size="15.3" fill="#00c4c4">26</text>
<text transform="translate(807.50,439.1) scale(1,1.03)" font-size="21.7" text-anchor="end" fill="#00c4c4">Mg</text>
</svg></body></html>
